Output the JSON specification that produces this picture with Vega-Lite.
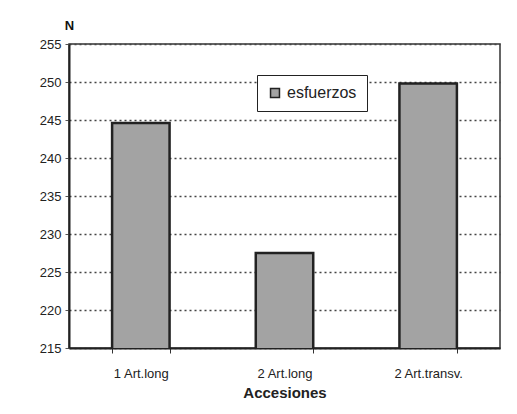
{
  "$schema": "https://vega.github.io/schema/vega-lite/v6.json",
  "width": 431,
  "height": 304,
  "autosize": {"type": "none"},
  "padding": {"left": 69, "top": 44, "right": 17, "bottom": 66},
  "background": "white",
  "data": {"values": [
    {"acc": "1 Art.long", "N": 244.6, "serie": "esfuerzos"},
    {"acc": "2 Art.long", "N": 227.5, "serie": "esfuerzos"},
    {"acc": "2 Art.transv.", "N": 249.8, "serie": "esfuerzos"}
  ]},
  "mark": {"type": "bar", "stroke": "#222222", "strokeWidth": 2.5, "clip": true},
  "encoding": {
    "x": {
      "field": "acc", "type": "nominal", "sort": null,
      "scale": {"paddingInner": 0.6, "paddingOuter": 0.3},
      "axis": {
        "title": "Accesiones", "titleFont": "Liberation Sans", "titleFontSize": 15, "titleFontWeight": "bold",
        "titleColor": "#222", "titlePadding": 5,
        "labelAngle": 0, "labelFont": "Liberation Sans", "labelFontSize": 13, "labelColor": "#222", "labelPadding": 14,
        "tickBand": "extent", "ticks": true, "tickSize": 5, "tickColor": "#333",
        "domainColor": "#222", "domainWidth": 2, "grid": false
      }
    },
    "y": {
      "field": "N", "type": "quantitative",
      "scale": {"domain": [215, 255], "zero": false},
      "axis": {
        "values": [215, 220, 225, 230, 235, 240, 245, 250, 255],
        "title": "N", "titleAngle": 0, "titleX": 0, "titleY": -12, "titleAlign": "center",
        "titleFont": "Liberation Sans", "titleFontSize": 13, "titleFontWeight": "bold", "titleColor": "#111",
        "labelFont": "Liberation Sans", "labelFontSize": 13, "labelColor": "#222", "labelPadding": 4,
        "tickSize": 4, "tickColor": "#555", "domainColor": "#222", "domainWidth": 2,
        "grid": true, "gridColor": "#444", "gridDash": [2, 3], "gridWidth": 1.5
      }
    },
    "color": {
      "field": "serie", "type": "nominal",
      "scale": {"range": ["#a3a3a3"]},
      "legend": {
        "title": null, "orient": "none", "legendX": 188, "legendY": 31,
        "symbolType": "square", "symbolSize": 80, "symbolStrokeColor": "#222", "symbolStrokeWidth": 1.5,
        "labelFont": "Liberation Sans", "labelFontSize": 16, "labelColor": "#222",
        "strokeColor": "#222", "fillColor": "white", "padding": 10
      }
    }
  },
  "config": {
    "view": {"stroke": "#333", "strokeWidth": 1.5}
  }
}
